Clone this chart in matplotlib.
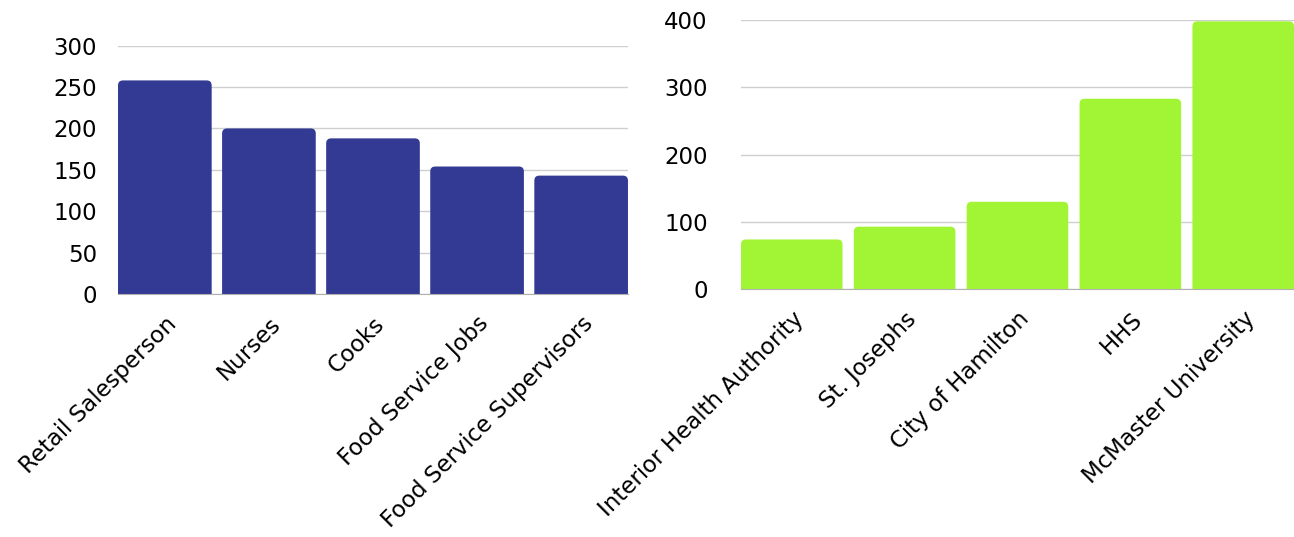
import matplotlib
matplotlib.use("Agg")
import matplotlib.pyplot as plt
from matplotlib.patches import FancyBboxPatch

# data
occupations = ["Retail Salesperson", "Nurses", "Cooks", "Food Service Jobs",
               "Food Service Supervisors"]
occupation_counts = [258, 200, 188, 154, 143]
employers = ["Interior Health Authority", "St. Josephs", "City of Hamilton",
             "HHS", "McMaster University"]
employer_counts = [74, 93, 130, 283, 398]

left_ticks = [0, 50, 100, 150, 200, 250, 300]
right_ticks = [0, 100, 200, 300, 400]

plt.rcParams['font.family'] = ['DejaVu Sans']


def rounded_bars(ax, labels, values, color, ticks, ypad, radius_px=5):
    bars = ax.bar(range(len(values)), values, width=0.9, color=color, zorder=3)
    ax.set_xlim(-0.45, len(values) - 0.55)
    ax.set_ylim(ticks[0], ticks[-1])
    ax.figure.canvas.draw()
    # pixels per data unit, to keep the corner radius round
    bb = ax.get_window_extent()
    xl, yl = ax.get_xlim(), ax.get_ylim()
    px_x = bb.width / (xl[1] - xl[0])
    px_y = bb.height / (yl[1] - yl[0])
    r = radius_px / px_x
    for b in bars:
        x, w, h = b.get_x(), b.get_width(), b.get_height()
        b.remove()
        # start below 0 so only the top corners look rounded (clipped by axes)
        ext = 2 * radius_px / px_y
        p = FancyBboxPatch((x, -ext), w, h + ext,
                           boxstyle=f"round,pad=0,rounding_size={r}",
                           mutation_aspect=px_x / px_y,
                           facecolor=color, edgecolor='none', zorder=3)
        ax.add_patch(p)

    ax.set_yticks(ticks)
    ax.set_xticks(range(len(labels)))
    ax.set_xticklabels(labels, rotation=45, ha='right', rotation_mode='anchor')
    ax.tick_params(axis='both', length=0, labelsize=16.5)
    ax.tick_params(axis='y', pad=ypad)
    ax.tick_params(axis='x', pad=13)
    ax.grid(axis='y', color='#cfcfcf', linewidth=1, zorder=0)
    for s in ['top', 'right', 'left']:
        ax.spines[s].set_visible(False)
    ax.spines['bottom'].set_color('#b0b0b0')
    ax.spines['bottom'].set_zorder(4)


fig = plt.figure(figsize=(12.94, 5.37), dpi=100)
ax1 = fig.add_axes([0.0912, 0.4525, 0.3941, 0.4625])
ax2 = fig.add_axes([0.5726, 0.4613, 0.4274, 0.5015])

rounded_bars(ax1, occupations, occupation_counts, '#333a94', left_ticks, 15)
rounded_bars(ax2, employers, employer_counts, '#a2f535', right_ticks, 24)

fig.savefig('out.png', dpi=100)
